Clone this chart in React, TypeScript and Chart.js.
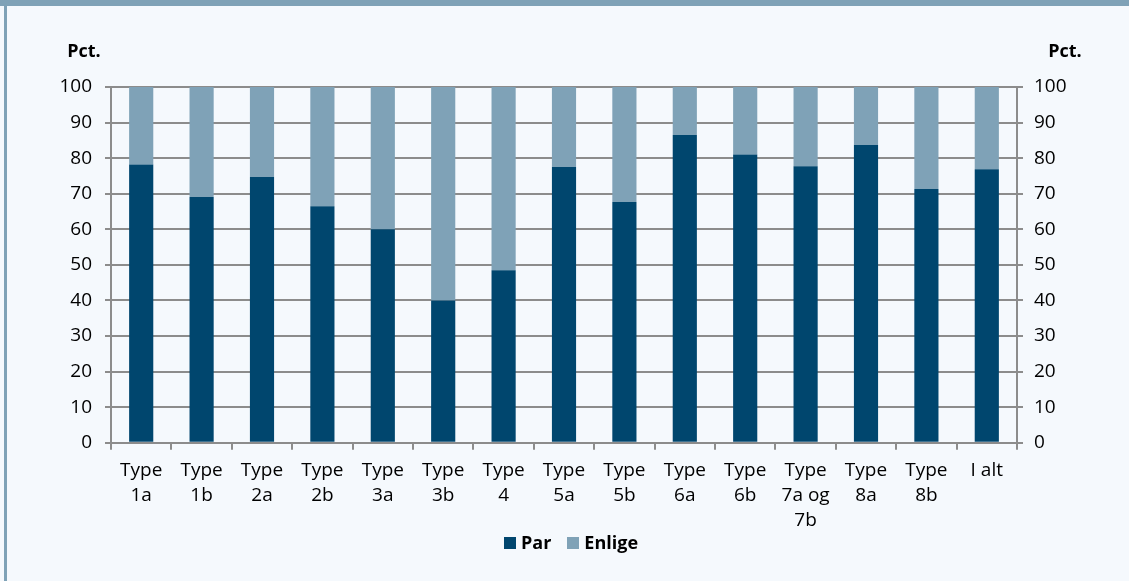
import React, { useEffect, useRef } from "react";
import { Chart, registerables } from "chart.js";

Chart.register(...registerables);

const categories: string[][] = [
  ["Type", "1a"], ["Type", "1b"], ["Type", "2a"], ["Type", "2b"], ["Type", "3a"],
  ["Type", "3b"], ["Type", "4"], ["Type", "5a"], ["Type", "5b"], ["Type", "6a"],
  ["Type", "6b"], ["Type", "7a og", "7b"], ["Type", "8a"], ["Type", "8b"], ["I alt"],
];
const parValues = [78.2, 69.1, 74.7, 66.5, 60.0, 40.0, 48.5, 77.5, 67.7, 86.5, 81.0, 77.7, 83.7, 71.3, 76.9];
const enligeValues = [21.8, 30.9, 25.3, 33.5, 40.0, 60.0, 51.5, 22.5, 32.3, 13.5, 19.0, 22.3, 16.3, 28.7, 23.1];
const seriesNames = ["Par", "Enlige"];
const axisUnitLabel = "Pct.";
const yMin = 0;
const yMax = 100;
const yStep = 10;

const BG = "#f5f9fd";
const FRAME = "#7fa2b7";
const PAR = "#00466e";
const ENLIGE = "#7fa2b7";
const GRID = "#8c8c8c";
const FONT = '"Open Sans", "Liberation Sans", sans-serif';

const CW = 1113;
const CH = 575;

const pctPlugin = {
  id: "pctLabels",
  afterDraw(chart: any) {
    const { ctx, chartArea } = chart;
    ctx.save();
    ctx.font = `bold 18px ${FONT}`;
    ctx.fillStyle = "#000";
    ctx.textAlign = "center";
    ctx.textBaseline = "middle";
    ctx.fillText(axisUnitLabel, chartArea.left - 27, chartArea.top - 35);
    ctx.fillText(axisUnitLabel, chartArea.right + 48, chartArea.top - 35);
    ctx.restore();
  },
};

const legendPlugin = {
  id: "bottomLegend",
  afterDraw(chart: any) {
    const { ctx, chartArea } = chart;
    ctx.save();
    ctx.font = `bold 18px ${FONT}`;
    const box = 12;
    const gap = 5;
    const itemGap = 16;
    const items = chart.data.datasets.map((ds: any) => ({
      text: ds.label as string,
      color: ds.backgroundColor as string,
      tw: ctx.measureText(ds.label).width,
    }));
    const total =
      items.reduce((a: number, it: any) => a + box + gap + it.tw, 0) + itemGap * (items.length - 1);
    let x = (chartArea.left + chartArea.right) / 2 + 7 - total / 2;
    const cy = chartArea.bottom + 100;
    ctx.textAlign = "left";
    ctx.textBaseline = "middle";
    items.forEach((it: any) => {
      ctx.fillStyle = it.color;
      ctx.fillRect(Math.round(x), Math.round(cy - box / 2), box, box);
      ctx.fillStyle = "#000";
      ctx.fillText(it.text, x + box + gap, cy + 1);
      x += box + gap + it.tw + itemGap;
    });
    ctx.restore();
  },
};

export default function App() {
  const ref = useRef<HTMLCanvasElement | null>(null);

  useEffect(() => {
    if (!ref.current) return;
    const tickFont = { family: FONT, size: 19 };
    const chart = new Chart(ref.current, {
      type: "bar",
      data: {
        labels: categories,
        datasets: [
          {
            label: seriesNames[0],
            data: parValues,
            backgroundColor: PAR,
            categoryPercentage: 0.8,
            barPercentage: 0.5,
          },
          {
            label: seriesNames[1],
            data: enligeValues,
            backgroundColor: ENLIGE,
            categoryPercentage: 0.8,
            barPercentage: 0.5,
          },
        ],
      },
      options: {
        responsive: false,
        animation: false,
        layout: { padding: { top: 81, left: 0, right: 0, bottom: 40 } },
        plugins: {
          tooltip: { enabled: false },
          legend: { display: false },
        },
        scales: {
          x: {
            stacked: true,
            grid: {
              display: true,
              drawOnChartArea: false,
              drawTicks: true,
              tickLength: 7,
              color: GRID,
              lineWidth: 2,
              offset: true,
            },
            border: { display: true, color: GRID, width: 2 },
            ticks: {
              font: { ...tickFont, lineHeight: 1.32 },
              color: "#000",
              autoSkip: false,
              maxRotation: 0,
              minRotation: 0,
              padding: 8,
            },
          },
          y: {
            stacked: true,
            position: "left",
            min: yMin,
            max: yMax,
            ticks: { stepSize: yStep, font: tickFont, color: "#000", padding: 13 },
            grid: { color: GRID, lineWidth: 2, tickLength: 6 },
            border: { display: true, color: GRID, width: 2 },
            afterFit: (s: any) => {
              s.width = 103;
            },
          },
          y2: {
            position: "right",
            min: yMin,
            max: yMax,
            ticks: { stepSize: yStep, font: tickFont, color: "#000", padding: 11 },
            grid: { drawOnChartArea: false, color: GRID, lineWidth: 2, tickLength: 6 },
            border: { display: true, color: GRID, width: 2 },
            afterFit: (s: any) => {
              s.width = 104;
            },
          },
        },
      },
      plugins: [pctPlugin, legendPlugin],
    });
    return () => chart.destroy();
  }, []);

  return (
    <div
      style={{
        position: "absolute",
        left: 0,
        top: 0,
        width: 1129,
        height: 581,
        background: BG,
        overflow: "hidden",
      }}
    >
      <div style={{ position: "absolute", left: 0, top: 0, width: 1129, height: 6, background: FRAME }} />
      <div style={{ position: "absolute", left: 4, top: 0, width: 3, height: 581, background: FRAME }} />
      <canvas
        ref={ref}
        width={CW}
        height={CH}
        style={{ position: "absolute", left: 8, top: 6, width: CW, height: CH }}
      />
    </div>
  );
}
